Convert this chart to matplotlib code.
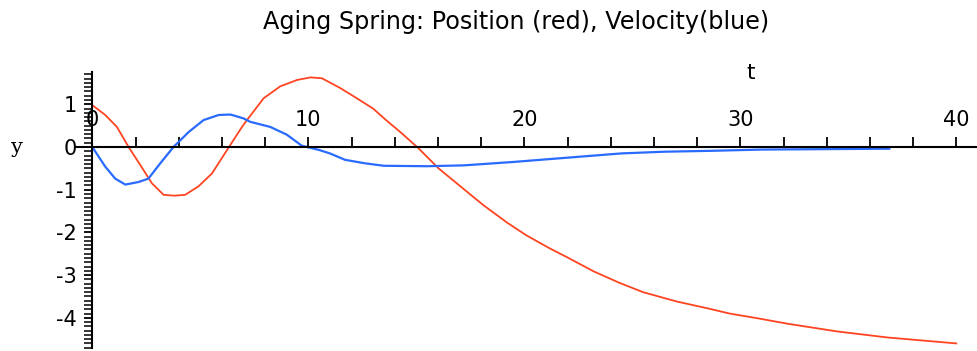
import matplotlib
matplotlib.use("Agg")
import matplotlib.pyplot as plt
from matplotlib.ticker import MultipleLocator, FixedLocator

# Position (red)
pos_t = [0, 0.6, 1.14, 1.68, 2.22, 2.76, 3.3, 3.8, 4.3, 4.92, 5.54, 6.24, 6.93, 7.16,
         7.93, 8.7, 9.48, 10.1, 10.63, 11.48, 12.25, 13.0, 13.6, 14.26, 15.1, 16.03,
         17.04, 18.1, 19.2, 20.1, 21.2, 22.05, 23.2, 24.4, 25.5, 27.07, 28.5, 29.5,
         30.9, 32.2, 34.5, 36.8, 40.0]
pos_y = [0.98, 0.75, 0.47, 0.0, -0.42, -0.85, -1.12, -1.14, -1.12, -0.92, -0.62, -0.07,
         0.47, 0.63, 1.14, 1.42, 1.57, 1.63, 1.61, 1.38, 1.14, 0.9, 0.63, 0.35, -0.03,
         -0.5, -0.92, -1.36, -1.77, -2.07, -2.38, -2.6, -2.91, -3.18, -3.4, -3.62, -3.78,
         -3.9, -4.02, -4.14, -4.32, -4.46, -4.6]

# Velocity (blue)
vel_t = [0, 0.6, 1.06, 1.53, 2.14, 2.6, 3.15, 3.76, 4.46, 5.15, 5.85, 6.4, 7.0, 7.31,
         8.24, 9.0, 9.7, 10.5, 11.0, 11.7, 12.6, 13.5, 15.5, 17.2, 19.5, 21.5, 23.0,
         24.5, 26.5, 28.6, 31.0, 34.0, 36.9]
vel_y = [0, -0.46, -0.74, -0.88, -0.82, -0.74, -0.38, 0.0, 0.35, 0.63, 0.75, 0.76, 0.67,
         0.59, 0.47, 0.29, 0.03, -0.07, -0.15, -0.3, -0.38, -0.44, -0.45, -0.43, -0.35,
         -0.27, -0.21, -0.15, -0.11, -0.09, -0.06, -0.05, -0.04]

x_major = [0, 10, 20, 30, 40]
y_major = [-4, -3, -2, -1, 0, 1]

title = "Aging Spring: Position (red), Velocity(blue)"

W, H = 978, 351
fig = plt.figure(figsize=(W / 100, H / 100), dpi=100)

x0, x1 = -0.8, 40.9
y0, y1 = -4.71, 1.75
px_per_x = 21.6
px_per_y = 42.7
origin_px = (92.3, 147.0)
left_px = origin_px[0] + x0 * px_per_x
right_px = origin_px[0] + x1 * px_per_x
top_px = origin_px[1] - y1 * px_per_y
bot_px = origin_px[1] - y0 * px_per_y
ax = fig.add_axes([left_px / W, 1 - bot_px / H, (right_px - left_px) / W, (bot_px - top_px) / H])

ax.plot(pos_t, pos_y, color="#ff4422", lw=1.3, solid_joinstyle="round")
ax.plot(vel_t, vel_y, color="#2a6bff", lw=1.6, solid_joinstyle="round")

ax.set_xlim(x0, x1)
ax.set_ylim(y0, y1)

for s in ["right", "bottom"]:
    ax.spines[s].set_visible(False)
ax.spines["left"].set_position(("data", 0))
ax.spines["top"].set_position(("data", 0))
ax.spines["left"].set_linewidth(1.5)
ax.spines["top"].set_linewidth(1.5)

ax.xaxis.tick_top()
ax.xaxis.set_major_locator(FixedLocator(x_major))
ax.xaxis.set_minor_locator(MultipleLocator(2))
ax.tick_params(axis="x", which="both", direction="out", length=7.5, width=1.3,
               labelsize=15, pad=5)
ax.set_xticklabels([str(v) for v in x_major])

ax.yaxis.set_major_locator(FixedLocator(y_major))
ax.yaxis.set_minor_locator(MultipleLocator(0.1))
ax.tick_params(axis="y", which="major", direction="out", length=6, width=1.3,
               labelsize=15, pad=5)
ax.tick_params(axis="y", which="minor", direction="out", length=5.5, width=1.1)
ax.set_yticklabels([str(v) for v in y_major])

fig.text(516 / W, 1 - 22 / H, title, ha="center", va="center", fontsize=17.2)
fig.text(751 / W, 1 - 73 / H, "t", ha="center", va="center", fontsize=15.5)
fig.text(17 / W, 1 - 147 / H, "y", ha="center", va="center", fontsize=15, family="DejaVu Serif")

fig.savefig("out.png", dpi=100)
